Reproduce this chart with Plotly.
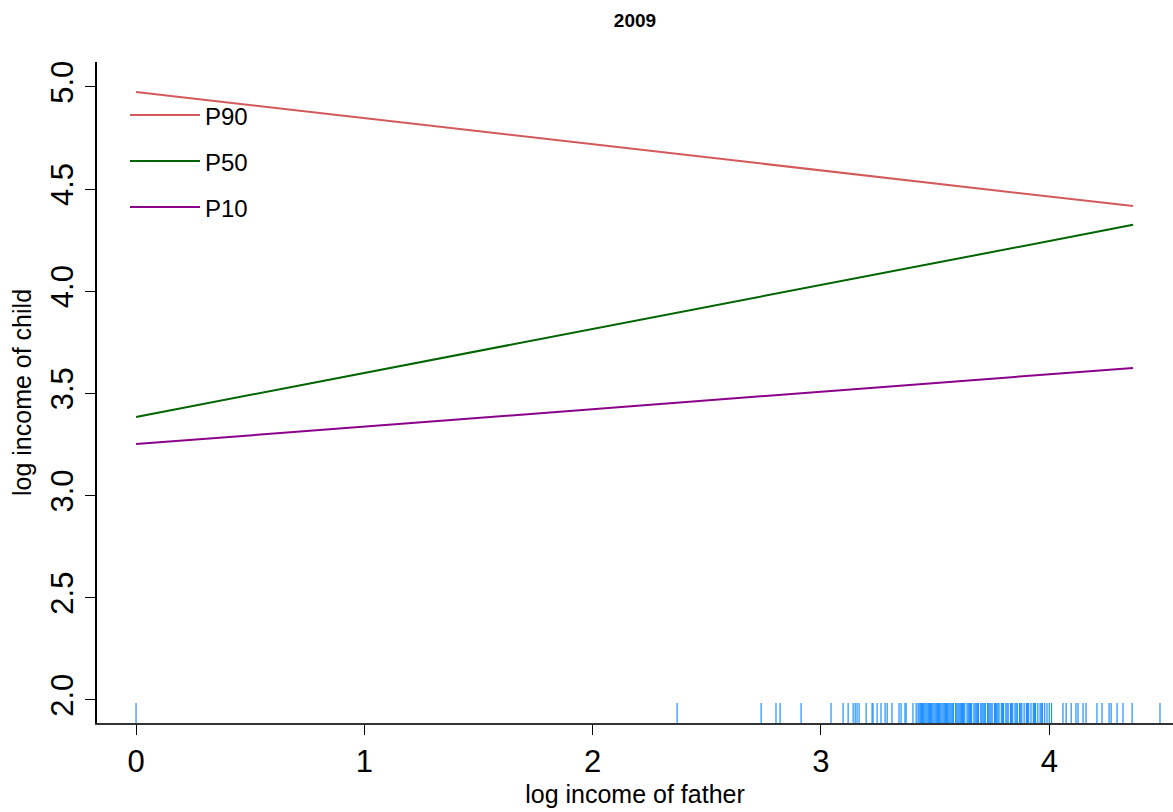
import plotly.graph_objects as go

# Quantile regression lines (endpoints)
x_line = [0.0, 4.367]
p90 = [4.975, 4.417]
p50 = [3.385, 4.325]
p10 = [3.252, 3.625]

series_names = ["P90", "P50", "P10"]
series_colors = ["#D25A5A", "#006400", "#8B008B"]

# Rug of father log income observations
rug_x = [0.0, 2.370, 2.738, 2.803, 2.821, 2.913, 3.044, 3.097, 3.119, 3.141, 3.150,
         3.158, 3.167, 3.198, 3.224, 3.228, 3.246, 3.263, 3.281, 3.290, 3.311,
         3.342, 3.351, 3.368, 3.373, 3.403, 3.417, 3.425,
         3.43, 3.435, 3.44, 3.445, 3.45, 3.455, 3.46, 3.465, 3.47, 3.475, 3.48, 3.485,
         3.49, 3.495, 3.50, 3.505, 3.51, 3.515, 3.52, 3.525, 3.53, 3.535, 3.54, 3.545,
         3.55, 3.555, 3.56, 3.565, 3.57, 3.575, 3.58, 3.59, 3.595, 3.60, 3.605, 3.61,
         3.615, 3.62, 3.625, 3.63, 3.64, 3.645, 3.65, 3.655, 3.66, 3.67, 3.675, 3.68,
         3.685, 3.69, 3.70, 3.705, 3.71, 3.715, 3.72, 3.73, 3.735, 3.74, 3.745, 3.75,
         3.76, 3.765, 3.77, 3.775, 3.78, 3.79, 3.795, 3.80, 3.81, 3.815, 3.82, 3.83,
         3.835, 3.84, 3.85, 3.855, 3.86, 3.87, 3.875, 3.88, 3.89, 3.90, 3.905, 3.91,
         3.92, 3.93, 3.935, 3.94, 3.95, 3.96, 3.965, 3.97, 3.98, 3.99, 4.00, 4.01,
         4.060, 4.074, 4.096, 4.117, 4.126, 4.148, 4.161, 4.209, 4.231, 4.262,
         4.271, 4.297, 4.323, 4.363, 4.485]
rug_bottom = 1.887
rug_top = 1.985

x_ticks = [0, 1, 2, 3, 4]
y_ticks = [2.0, 2.5, 3.0, 3.5, 4.0, 4.5, 5.0]
y_tick_text = ["2.0", "2.5", "3.0", "3.5", "4.0", "4.5", "5.0"]

fig = go.Figure()

# rug
rx, ry = [], []
for v in rug_x:
    rx += [v, v, None]
    ry += [rug_bottom, rug_top, None]
fig.add_trace(go.Scatter(x=rx, y=ry, mode="lines",
                         line=dict(color="#1E90FF", width=1.2),
                         showlegend=False, hoverinfo="skip"))

for name, vals, col in zip(series_names, [p90, p50, p10], series_colors):
    fig.add_trace(go.Scatter(x=x_line, y=vals, mode="lines", name=name,
                             line=dict(color=col, width=2), showlegend=False))

# legend drawn as shapes + labels (paper coords)
W, H = 1173, 812
ml, mr, mt, mb = 97, 0, 62, 89
pw, ph = W - ml - mr, H - mt - mb
def px(x):
    return (x - ml) / pw
def py(y):
    return (H - mb - y) / ph

leg_y = [115, 161, 207]
for name, col, yy in zip(series_names, series_colors, leg_y):
    fig.add_shape(type="line", xref="paper", yref="paper",
                  x0=px(130), x1=px(200), y0=py(yy), y1=py(yy),
                  line=dict(color=col, width=2))
    fig.add_annotation(xref="paper", yref="paper", x=px(203), y=py(yy + 1),
                       text=name, showarrow=False, xanchor="left", yanchor="middle",
                       font=dict(size=24, color="black", family="Liberation Sans, Arial"))

fig.update_layout(
    width=W, height=H,
    margin=dict(l=ml, r=mr, t=mt, b=mb),
    paper_bgcolor="white", plot_bgcolor="white",
    font=dict(family="Liberation Sans, Arial", color="black"),
    title=dict(text="<b>2009</b>", x=px(635), xref="paper", y=1 - 20 / H,
               xanchor="center", yanchor="middle",
               font=dict(size=19, family="Liberation Sans, Arial")),
    showlegend=False,
)
fig.update_xaxes(range=[-0.171, 4.542], tickvals=x_ticks, ticks="outside", ticklen=10,
                 tickcolor="black", tickwidth=1.3, showline=True, linecolor="#333333",
                 linewidth=1.5, showgrid=False, zeroline=False,
                 tickfont=dict(size=31),
                 title=dict(text="log income of father", font=dict(size=25), standoff=8))
fig.update_yaxes(range=[1.887, 5.122], tickvals=y_ticks, ticktext=y_tick_text,
                 ticks="outside", ticklen=10, tickcolor="black", tickwidth=1.3,
                 showline=True, linecolor="black", linewidth=1.5, showgrid=False,
                 zeroline=False, tickangle=-90, tickfont=dict(size=31),
                 title=dict(text="log income of child", font=dict(size=25), standoff=6))

fig.write_html("out.html", config={"displayModeBar": False},
               post_script="document.body.style.margin='0';document.body.style.overflow='hidden';")
